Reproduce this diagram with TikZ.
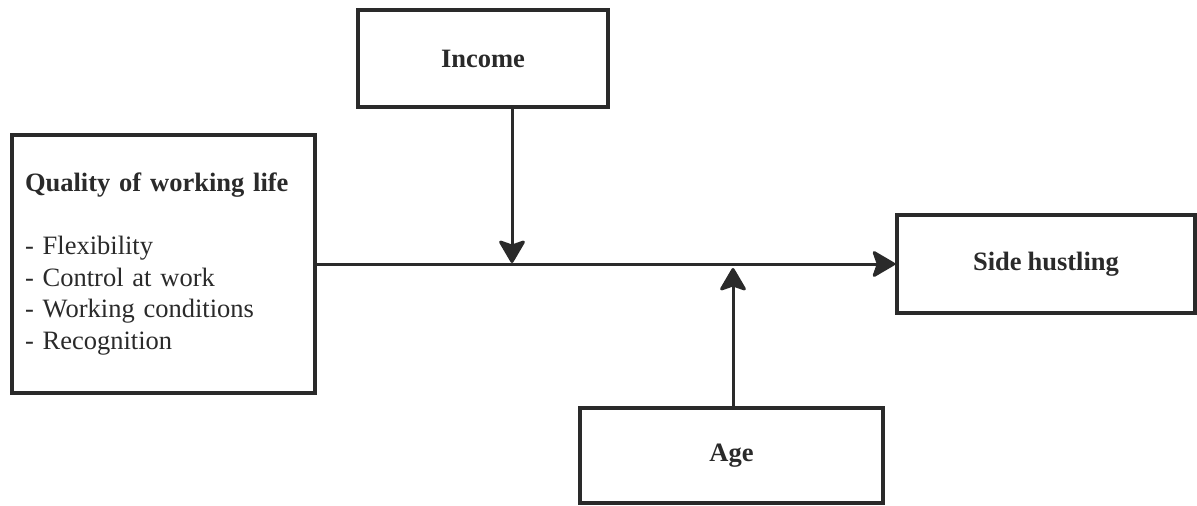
\documentclass[tikz,border=0pt]{standalone}
\usepackage{fontspec}
\setmainfont[WordSpace=0.88]{Liberation Serif}
\usetikzlibrary{arrows.meta}
\definecolor{ink}{HTML}{2A2A2A}
\tikzset{
  box/.style={draw=ink, line width=3.6pt, rectangle, inner sep=0pt,
    font=\fontsize{26.5}{31.5}\selectfont\bfseries, text=ink},
  arr/.style={draw=ink, line width=3pt,
    -{Stealth[length=25pt, width=29pt, inset=5pt, round]}}
}
\begin{document}
\begin{tikzpicture}[x=1pt, y=-1pt]
\useasboundingbox (0,0) rectangle (1197,506);
% boxes
\node[box, minimum width=250pt, minimum height=97pt] (inc) at (483,58.5) {Income};
\node[box, minimum width=303pt, minimum height=258pt, text width=277pt,
      align=left, font=\fontsize{26.5}{31.5}\selectfont] (qwl) at (163.5,264)
  {\textbf{Quality of working life}\\[31.5pt]
   - Flexibility\\
   - Control at work\\
   - Working conditions\\
   - Recognition};
\node[box, minimum width=298pt, minimum height=98pt] (side) at (1046,264) {Side hustling};
\node[box, minimum width=303pt, minimum height=95pt] (age) at (731.5,455.5) {Age};
% points where the moderators meet the main path
\coordinate (mInc) at (512,263);
\coordinate (mAge) at (733,268);
% connectors
\draw[arr] (qwl.east) -- (side.west);
\draw[arr] (inc.south -| mInc) -- (mInc);
\draw[arr] (age.north -| mAge) -- (mAge);
\end{tikzpicture}
\end{document}
